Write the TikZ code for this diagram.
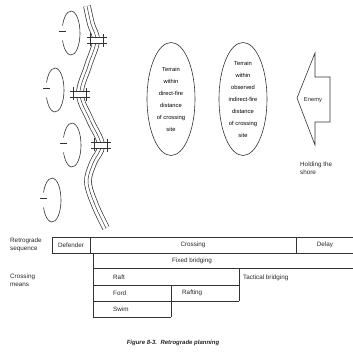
\documentclass[tikz,border=0pt]{standalone}
\usepackage{fontspec}
\setmainfont{Liberation Sans}
\usetikzlibrary{shapes.geometric}
\begin{document}
\begin{tikzpicture}[x=1pt,y=-1pt,
  ln/.style={draw=black!80, line width=0.6pt},
  lbl/.style={font=\fontsize{6.3}{7.4}\selectfont, inner sep=0pt, text=black!85},
  elltxt/.style={font=\fontsize{5.8}{12}\selectfont, align=center},
  bigell/.style={ellipse, ln, minimum width=48pt, minimum height=113pt, inner sep=0pt, elltxt},
  figcaption/.style={font=\bfseries\itshape\fontsize{6}{7}\selectfont, inner sep=0pt, text=black!85}]
\useasboundingbox (0,0) rectangle (353,354);
\fill[white] (0,0) rectangle (353,354);

% river (three parallel lines)
\def\riverpath{plot[smooth, tension=0.6] coordinates {(87,6) (91,24) (96,41) (88,66) (80,94) (90,120) (101,145) (93,163) (88,182) (95,205) (106,228)}}
\draw[black!80, line width=7.6pt] \riverpath;
\draw[white, line width=6.2pt] \riverpath;
\draw[black!80, line width=0.5pt] \riverpath;

% bridges
\foreach \bx/\by [count=\i] in {97/40, 80/94, 101/145}{
  \fill[white] ({\bx-10},{\by-3}) rectangle ({\bx+10},{\by+3});
  \draw[ln] ({\bx-10},{\by-3}) -- ({\bx+10},{\by-3});
  \draw[ln] ({\bx-10},{\by+3}) -- ({\bx+10},{\by+3});
  \draw[ln] ({\bx-7},{\by-7}) -- ({\bx-7},{\by+6});
  \draw[ln] ({\bx+6},{\by-6}) -- ({\bx+6},{\by+7});
}

% small positions (ellipses with a tick)
\foreach \ex/\ey in {71/33, 55/90, 72/145, 52/200}{
  \draw[ln] ([shift={(200:9pt and 22pt)}]\ex,\ey) arc[start angle=200, end angle=520, x radius=9pt, y radius=22pt];
  \draw[ln] ({\ex-12},{\ey-2}) -- ({\ex-5},{\ey-2});
}

% terrain ellipses
\node[bigell] (ea) at (171,99) {Terrain\\within\\direct-fire\\distance\\of crossing\\site};
\node[bigell] (eb) at (243,99) {Terrain\\within\\observed\\indirect-fire\\distance\\of crossing\\site};

% enemy arrow
\draw[ln] (297,98) -- (315,53) -- (315,77) -- (330,77) -- (330,122) -- (315,122) -- (315,145) -- cycle;
\node[lbl, font=\fontsize{5.8}{7}\selectfont] (enemy) at (313,100) {Enemy};
\node[lbl, anchor=north west, align=left] (hold) at (300,162) {Holding the\\shore};

% table lines
\draw[ln] (353,237) -- (52,237) -- (52,253) -- (353,253);
\draw[ln] (90,237) -- (90,253);
\draw[ln] (296,237) -- (296,253);
\draw[ln] (93,253) -- (93,317);
\draw[ln] (93,268) -- (353,268);
\draw[ln] (93,285) -- (239,285);
\draw[ln] (239,268) -- (239,301);
\draw[ln] (93,301) -- (239,301);
\draw[ln] (171,285) -- (171,317);
\draw[ln] (93,317) -- (171,317);

% table texts
\node[lbl, anchor=north west, align=left] (seq) at (10,238) {Retrograde\\sequence};
\node[lbl, anchor=north west, align=left] (means) at (10,274) {Crossing\\means};
\node[lbl] (def) at (71,245) {Defender};
\node[lbl] (cross) at (193,245) {Crossing};
\node[lbl] (delay) at (325,245) {Delay};
\node[lbl] (fixed) at (192,261) {Fixed bridging};
\node[lbl, anchor=west] (raft) at (113,277) {Raft};
\node[lbl, anchor=west] (ford) at (113,293) {Ford};
\node[lbl, anchor=west] (rafting) at (182,293) {Rafting};
\node[lbl, anchor=west] (swim) at (113,309) {Swim};
\node[lbl, anchor=west] (tact) at (243,278) {Tactical bridging};

% caption
\node[figcaption] (caption) at (173,343) {Figure 8-3.\ \ Retrograde planning};
\end{tikzpicture}
\end{document}
